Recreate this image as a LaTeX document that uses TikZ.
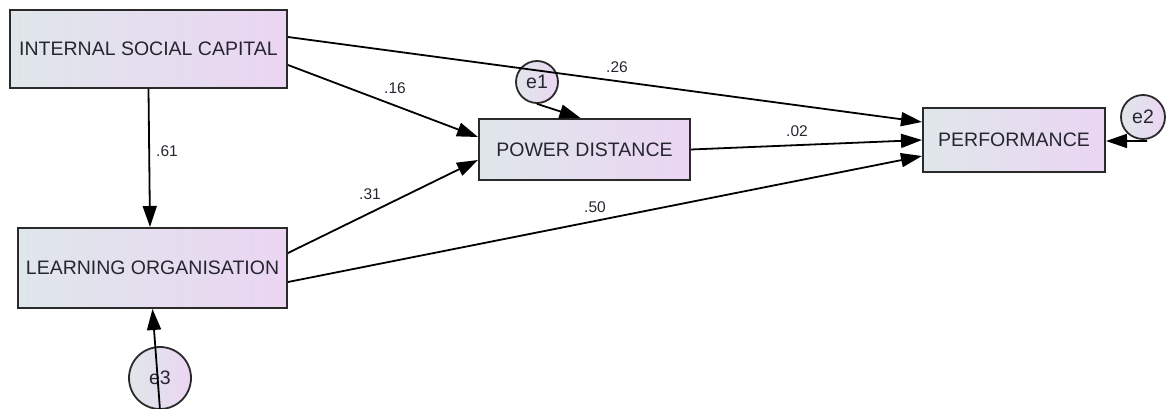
\documentclass[tikz,border=0pt]{standalone}
\usepackage{fontspec}
\setmainfont{Liberation Sans}
\usetikzlibrary{arrows.meta,calc}
\definecolor{fillL}{HTML}{DFE7EA}
\definecolor{fillR}{HTML}{EBD5F3}
\definecolor{ink}{HTML}{262630}
\definecolor{edge}{HTML}{2A2A2A}
\tikzset{
  var/.style={draw=edge, line width=2pt, left color=fillL, right color=fillR,
    shading angle=90, minimum height=#1, inner sep=0pt, text=ink, font=\fontsize{19.5}{22}\selectfont},
  err/.style={circle, draw=edge, line width=1.8pt, left color=fillL, right color=fillR,
    minimum size=#1, inner sep=0pt, text=ink, font=\fontsize{19.5}{22}\selectfont},
  path/.style={draw=black, line width=1.8pt, -{Triangle[length=21pt,width=14pt]}},
  coef/.style={font=\fontsize{15.5}{17}\selectfont, text=ink}
}
\begin{document}
\begin{tikzpicture}[x=1pt,y=-1pt]
\useasboundingbox (0,0) rectangle (1168,409);
% observed variables
\node[var=78pt, minimum width=277pt] (isc) at (148.5,49) {INTERNAL SOCIAL CAPITAL};
\node[var=80pt, minimum width=269pt] (lo) at (152.5,268) {LEARNING ORGANISATION};
\node[var=61pt, minimum width=211pt] (pd) at (584.5,149.5) {POWER DISTANCE};
\node[var=64pt, minimum width=182pt] (perf) at (1014,140) {PERFORMANCE};
% error terms
\node[err=42pt] (e1) at (537,82) {e1};
\node[err=44pt] (e2) at (1143,117) {e2};
\node[err=62pt] (e3) at (160,378) {e3};
% structural paths
\draw[path] ($(isc.east)+(0,-12)$) -- ($(perf.west)+(0,-18)$);
\draw[path] ($(isc.east)+(0,16)$) -- ($(pd.west)+(0,-12.5)$);
\draw[path] (isc.south) -- ($(lo.north)+(-2.5,0)$);
\draw[path] ($(lo.east)+(0,-15)$) -- ($(pd.west)+(0,10.5)$);
\draw[path] ($(lo.east)+(0,14)$) -- ($(perf.west)+(0,16)$);
\draw[path] (pd.east) -- (perf.west);
% residual paths
\draw[path] (e1.south) -- ($(pd.north)+(-4,0)$);
\draw[path] ($(e2.south)+(4,1)$) -- ($(perf.east)+(0,1)$);
\draw[path] (e3.south) -- (lo.south);
% coefficients
\node[coef] at (617,67) {.26};
\node[coef] at (395,88) {.16};
\node[coef] at (167,151) {.61};
\node[coef] at (370,194) {.31};
\node[coef] at (595,207) {.50};
\node[coef] at (797,131) {.02};
\end{tikzpicture}
\end{document}
